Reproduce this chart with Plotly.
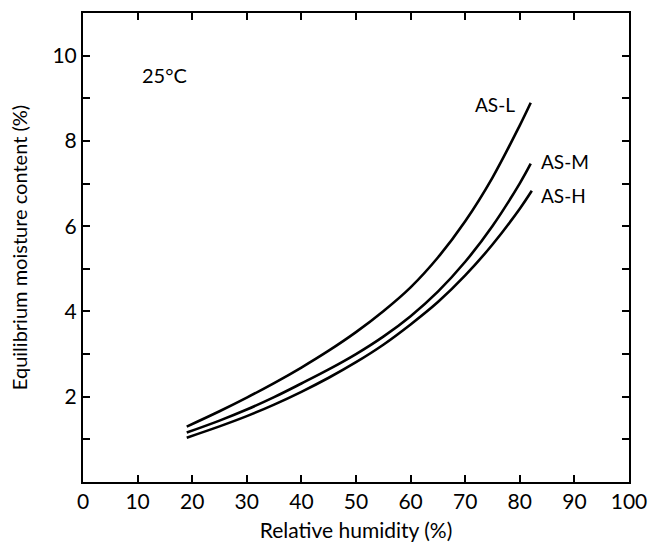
import plotly.graph_objects as go

# Relative humidity (%) sample points and equilibrium moisture content (%)
rh_L = [19, 25, 30, 35, 40, 45, 50, 55, 60, 65, 70, 75, 80, 82]
emc_L = [1.30, 1.66, 1.98, 2.32, 2.685, 3.08, 3.515, 4.005, 4.565, 5.265, 6.115, 7.14, 8.365, 8.895]

rh_M = [19, 25, 30, 35, 40, 45, 50, 55, 60, 65, 70, 75, 80, 82]
emc_M = [1.16, 1.44, 1.70, 1.99, 2.31, 2.64, 3.00, 3.41, 3.89, 4.465, 5.165, 6.005, 7.005, 7.465]

rh_H = [19, 25, 30, 35, 40, 45, 50, 55, 60, 65, 70, 75, 80, 82.2]
emc_H = [1.04, 1.305, 1.545, 1.815, 2.115, 2.445, 2.81, 3.22, 3.695, 4.22, 4.845, 5.57, 6.41, 6.83]

series_names = ["AS-L", "AS-M", "AS-H"]

x_ticks = [0, 10, 20, 30, 40, 50, 60, 70, 80, 90, 100]
y_ticks = [1, 2, 3, 4, 5, 6, 7, 8, 9, 10]
y_ticktext = ["", "2", "", "4", "", "6", "", "8", "", "10"]

FONT = "Lato"

fig = go.Figure()
for xs, ys, name in zip([rh_L, rh_M, rh_H], [emc_L, emc_M, emc_H], series_names):
    fig.add_trace(go.Scatter(x=xs, y=ys, mode="lines", name=name,
                             line=dict(color="black", width=2.6, shape="spline", smoothing=1.0),
                             showlegend=False, hoverinfo="skip"))

# curve labels
fig.add_annotation(x=rh_L[-1] - 2.6, y=emc_L[-1] - 0.05, text=series_names[0], showarrow=False,
                   xanchor="right", yanchor="middle", font=dict(size=19, color="black", family=FONT))
fig.add_annotation(x=rh_M[-1] + 1.5, y=emc_M[-1] + 0.05, text=series_names[1], showarrow=False,
                   xanchor="left", yanchor="middle", font=dict(size=19, color="black", family=FONT))
fig.add_annotation(x=rh_H[-1] + 1.3, y=emc_H[-1] - 0.1, text=series_names[2], showarrow=False,
                   xanchor="left", yanchor="middle", font=dict(size=19, color="black", family=FONT))
fig.add_annotation(x=10.4, y=9.55, text="25°C", showarrow=False,
                   xanchor="left", yanchor="middle", font=dict(size=20, color="black", family=FONT))

fig.update_layout(
    width=650, height=548,
    margin=dict(l=83, r=21, t=13, b=66),
    paper_bgcolor="white", plot_bgcolor="white",
    font=dict(family=FONT, color="black", size=18),
)
fig.update_xaxes(
    range=[0, 100], tickvals=x_ticks, ticks="inside", ticklen=7, tickwidth=1.5,
    tickcolor="black", showline=True, linecolor="black", linewidth=2, mirror="ticks",
    showgrid=False, zeroline=False, tickfont=dict(size=21, family=FONT), automargin=False,
    ticklabeloverflow="allow",
    title=dict(text="Relative humidity (%)", font=dict(size=21, family=FONT), standoff=11),
)
fig.update_yaxes(
    range=[0, 11], tickvals=y_ticks, ticktext=y_ticktext, ticks="inside", ticklen=7,
    tickwidth=1.5, tickcolor="black", showline=True, linecolor="black", linewidth=2,
    mirror="ticks", showgrid=False, zeroline=False, tickfont=dict(size=21, family=FONT),
    automargin=False,
    title=dict(text="Equilibrium moisture content (%)", font=dict(size=20, family=FONT), standoff=19),
)

# remove the page's default body margin so the 650x548 figure fills the window exactly
fig.write_html("out.html",
               config={"displayModeBar": False},
               post_script="document.body.style.margin='0';document.body.style.overflow='hidden';")
